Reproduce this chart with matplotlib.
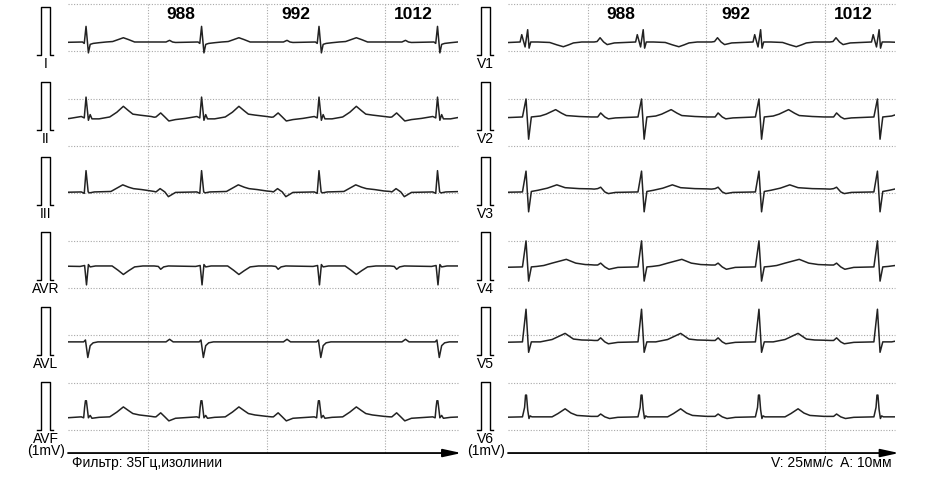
import numpy as np
import matplotlib
matplotlib.use("Agg")
import matplotlib.pyplot as plt
from matplotlib.patches import Rectangle

plt.rcParams['font.family'] = ['Liberation Sans', 'DejaVu Sans']

# R peak times (s), same beats on every lead
r_times = [0.152, 1.127, 2.118, 3.118]
rr_labels = ['988', '992', '1012']

left_leads = ['I', 'II', 'III', 'AVR', 'AVL', 'AVF']
right_leads = ['V1', 'V2', 'V3', 'V4', 'V5', 'V6']

# one beat per lead: offset from R peak (s) and amplitude (mV)
I_t = [-0.40, -0.30, -0.27, -0.245, -0.22, -0.03, -0.015, 0.0, 0.02, 0.035, 0.06, 0.11, 0.17, 0.225, 0.27, 0.315, 0.36, 0.41, 0.55]
I_mv = [0.0, 0.0, 0.035, 0.0, -0.01, 0.0, -0.03, 0.33, -0.23, -0.05, -0.03, -0.015, 0.0, 0.01, 0.05, 0.09, 0.05, 0.0, 0.0]

II_t = [-0.40, -0.385, -0.345, -0.31, -0.276, -0.22, -0.135, -0.04, -0.015, 0.0, 0.02, 0.035, 0.05, 0.11, 0.2, 0.26, 0.315, 0.36, 0.395, 0.45, 0.55]
II_mv = [-0.005, 0.0, 0.085, 0.0, -0.085, -0.055, -0.03, 0.01, -0.02, 0.42, -0.07, 0.05, -0.04, -0.04, 0.0, 0.1, 0.225, 0.13, 0.06, 0.04, 0.01]

III_t = [-0.40, -0.385, -0.35, -0.31, -0.28, -0.22, -0.04, -0.015, 0.0, 0.018, 0.03, 0.07, 0.21, 0.26, 0.31, 0.36, 0.40, 0.47, 0.55]
III_mv = [0.01, 0.0, 0.07, 0.0, -0.1, -0.01, 0.0, -0.03, 0.45, 0.0, -0.02, 0.0, 0.01, 0.08, 0.15, 0.10, 0.07, 0.05, 0.02]

AVR_t = [-0.40, -0.365, -0.345, -0.32, -0.28, -0.05, -0.012, 0.004, 0.02, 0.035, 0.08, 0.22, 0.27, 0.315, 0.36, 0.41, 0.48, 0.55]
AVR_mv = [0.02, 0.01, -0.05, 0.0, 0.02, 0.01, 0.03, -0.38, 0.05, 0.0, 0.02, 0.02, -0.07, -0.16, -0.08, 0.0, 0.02, 0.02]

AVL_t = [-0.40, -0.30, -0.27, -0.24, -0.02, -0.005, 0.015, 0.035, 0.06, 0.10, 0.55]
AVL_mv = [0.0, 0.0, 0.055, 0.0, 0.0, 0.04, -0.33, -0.08, -0.02, 0.0, 0.0]

AVF_t = [-0.40, -0.385, -0.345, -0.31, -0.276, -0.22, -0.04, -0.02, -0.012, -0.005, 0.003, 0.012, 0.02, 0.035, 0.05, 0.11, 0.2, 0.26, 0.315, 0.36, 0.395, 0.45, 0.55]
AVF_mv = [0.0, 0.0, 0.085, 0.0, -0.085, -0.03, 0.0, -0.02, 0.2, 0.34, 0.34, 0.15, -0.02, 0.03, -0.03, -0.01, 0.0, 0.1, 0.21, 0.13, 0.07, 0.04, 0.01]

V1_t = [-0.40, -0.375, -0.35, -0.32, -0.29, -0.23, -0.05, -0.036, -0.008, 0.014, 0.026, 0.04, 0.10, 0.20, 0.26, 0.315, 0.36, 0.40, 0.47, 0.55]
V1_mv = [0.0, 0.01, 0.09, 0.0, -0.055, -0.02, 0.0, 0.155, -0.105, 0.26, -0.13, 0.0, 0.0, -0.01, -0.06, -0.10, -0.06, -0.02, 0.0, 0.0]

V2_t = [-0.40, -0.37, -0.345, -0.31, -0.28, -0.22, -0.03, 0.0, 0.022, 0.045, 0.12, 0.17, 0.25, 0.30, 0.34, 0.45, 0.55]
V2_mv = [0.0, 0.0, 0.085, 0.0, -0.04, -0.02, 0.0, 0.38, -0.47, 0.0, 0.02, 0.06, 0.155, 0.08, 0.03, 0.01, 0.0]

V3_t = [-0.40, -0.37, -0.345, -0.31, -0.28, -0.22, -0.03, 0.0, 0.022, 0.045, 0.10, 0.18, 0.26, 0.33, 0.45, 0.55]
V3_mv = [0.06, 0.07, 0.10, 0.0, -0.035, -0.01, 0.0, 0.44, -0.42, 0.01, 0.035, 0.08, 0.15, 0.09, 0.07, 0.065]

V4_t = [-0.40, -0.37, -0.345, -0.31, -0.275, -0.20, -0.03, 0.0, 0.022, 0.045, 0.09, 0.15, 0.22, 0.34, 0.42, 0.50, 0.55]
V4_mv = [0.04, 0.04, 0.08, 0.0, -0.05, -0.01, 0.0, 0.55, -0.30, 0.0, 0.01, 0.03, 0.08, 0.16, 0.08, 0.05, 0.045]

V5_t = [-0.40, -0.37, -0.345, -0.31, -0.28, -0.20, -0.03, 0.0, 0.022, 0.045, 0.12, 0.22, 0.33, 0.40, 0.47, 0.55]
V5_mv = [0.03, 0.03, 0.085, 0.0, -0.04, -0.01, 0.0, 0.69, -0.22, 0.0, 0.0, 0.05, 0.18, 0.06, 0.04, 0.035]

V6_t = [-0.40, -0.37, -0.345, -0.31, -0.27, -0.20, -0.03, -0.012, -0.004, 0.004, 0.014, 0.025, 0.035, 0.05, 0.22, 0.27, 0.33, 0.38, 0.43, 0.55]
V6_mv = [0.01, 0.01, 0.06, 0.0, -0.035, -0.01, 0.0, 0.2, 0.46, 0.46, 0.15, -0.035, 0.02, 0.0, 0.0, 0.07, 0.17, 0.08, 0.03, 0.01]

templates = {
    'I': (I_t, I_mv), 'II': (II_t, II_mv), 'III': (III_t, III_mv),
    'AVR': (AVR_t, AVR_mv), 'AVL': (AVL_t, AVL_mv), 'AVF': (AVF_t, AVF_mv),
    'V1': (V1_t, V1_mv), 'V2': (V2_t, V2_mv), 'V3': (V3_t, V3_mv),
    'V4': (V4_t, V4_mv), 'V5': (V5_t, V5_mv), 'V6': (V6_t, V6_mv),
}

# 1 mV calibration pulse
cal_t = [-0.265, -0.228, -0.228, -0.148, -0.148, -0.125]
cal_mv = [0.0, 0.0, 1.0, 1.0, 0.0, 0.0]

ROW = 1.585        # mV between rows
GRID_T = [0.675, 1.675, 2.675]
GRID_MV = [0.8 - k for k in range(10)]
AXIS_MV = -8.69

TRACE = '#222222'
DOT = '#a8a8a8'

fig = plt.figure(figsize=(9.31, 4.81), dpi=100)

panels = [
    (left_leads, [0, 0, 465 / 931, 1], (-0.574, 3.350), 3.29, 'Фильтр: 35Гц,изолинии'),
    (right_leads, [465 / 931, 0, 466 / 931, 1], (-0.363, 3.570), 3.27, 'V: 25мм/с  A: 10мм'),
]

for leads, rect, xlim, t_end, note in panels:
    ax = fig.add_axes(rect)
    ax.set_xlim(*xlim)
    ax.set_ylim(-9.26, 0.909)
    ax.axis('off')

    # dotted grid
    for gt in GRID_T:
        ax.plot([gt, gt], [GRID_MV[0], AXIS_MV], color=DOT, lw=0.8, ls=(0, (1, 1.5)))
    for gm in GRID_MV:
        ax.plot([0, t_end], [gm, gm], color=DOT, lw=0.8, ls=(0, (1, 1.5)))

    clip = Rectangle((0, -10), t_end, 12, transform=ax.transData)

    for i, lead in enumerate(leads):
        base = -i * ROW
        tt, mv = templates[lead]
        ts, vs = [], []
        for r in r_times:
            ts.extend(r + np.array(tt))
            vs.extend(base + np.array(mv))
        line, = ax.plot(ts, vs, color=TRACE, lw=1.1, solid_joinstyle='round')
        line.set_clip_path(clip)

        ax.plot(cal_t, base - 0.27 + np.array(cal_mv), color='black', lw=1.0)
        ax.text(-0.188, base - 0.44, lead, ha='center', va='center', fontsize=10)

    ax.text(-0.188, -(len(leads) - 1) * ROW - 0.70, '(1mV)', ha='center', va='center', fontsize=10)

    # RR intervals
    for r, lab in zip(r_times[:-1], rr_labels):
        ax.text(r + 0.8, 0.60, lab, ha='center', va='center', fontsize=12.5, fontweight='bold')

    # time axis
    ax.annotate('', xy=(t_end + 0.03, AXIS_MV), xytext=(0, AXIS_MV),
                arrowprops=dict(arrowstyle='-|>,head_length=0.55,head_width=0.12',
                                color='black', lw=1.3, mutation_scale=20,
                                shrinkA=0, shrinkB=0))
    if leads[0] == 'I':
        ax.text(0.034, -8.88, note, ha='left', va='center', fontsize=10)
    else:
        ax.text(3.24, -8.88, note, ha='right', va='center', fontsize=10)

fig.savefig('out.png', dpi=100)
